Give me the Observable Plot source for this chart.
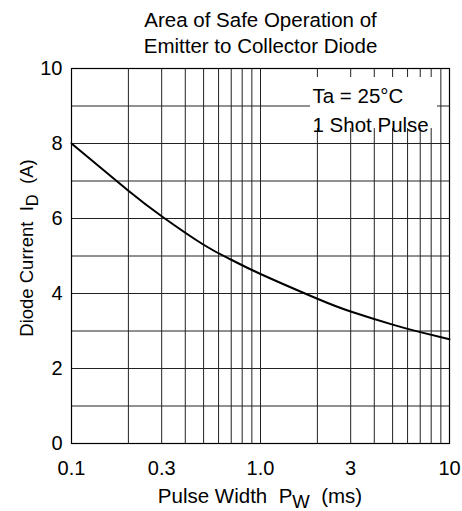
<!DOCTYPE html>
<html>
<head>
<meta charset="utf-8">
<script src="https://cdn.jsdelivr.net/npm/d3@7"></script>
<script src="https://cdn.jsdelivr.net/npm/@observablehq/plot@0.6"></script>
<style>
  html, body { margin: 0; padding: 0; background: #fff; overflow: hidden; }
  #chart { width: 462px; height: 511px; }
</style>
</head>
<body>
<div id="chart"></div>
<script>
// Data
const pulseWidth = [0.1, 0.2, 0.3, 0.5, 0.7, 1.0, 2, 3, 5, 7, 10];
const diodeCurrent = [8.0, 6.74, 6.06, 5.3, 4.9, 4.52, 3.86, 3.52, 3.17, 2.97, 2.78];

const xTicks = [0.1, 0.3, 1, 3, 10];
const xTickLabels = ["0.1", "0.3", "1.0", "3", "10"];
const yTicks = [0, 2, 4, 6, 8, 10];
const xGrid = [0.1, 0.2, 0.3, 0.4, 0.5, 0.6, 0.7, 0.8, 0.9, 1, 2, 3, 4, 5, 6, 7, 8, 9, 10];
const yGrid = [0, 1, 2, 3, 4, 5, 6, 7, 8, 9, 10];

const titleLines = ["Area of Safe Operation of", "Emitter to Collector Diode"];
const noteLines = ["Ta = 25°C", "1 Shot Pulse"];
const xLabelParts = ["Pulse Width  P", "W", "  (ms)"];
const yLabelParts = ["Diode Current  I", "D", "  (A)"];

const data = pulseWidth.map((x, i) => ({x, y: diodeCurrent[i]}));
const FONT = "'Liberation Sans', Arial, Helvetica, sans-serif";

const plot = Plot.plot({
  width: 462,
  height: 511,
  marginLeft: 71,
  marginRight: 13,
  marginTop: 68,
  marginBottom: 68,
  style: {fontFamily: FONT, fontSize: "20px", color: "#000", background: "#fff"},
  x: {
    type: "log",
    domain: [0.1, 10],
    ticks: xTicks,
    tickFormat: d => xTickLabels[xTicks.findIndex(t => Math.abs(t - d) < 1e-9)],
    tickSize: 0,
    tickPadding: 17,
    label: null
  },
  y: {
    domain: [0, 10],
    ticks: yTicks,
    tickSize: 0,
    tickPadding: 9,
    label: null
  },
  marks: [
    Plot.ruleX(xGrid, {stroke: "#222", strokeWidth: 1}),
    Plot.ruleY(yGrid, {stroke: "#222", strokeWidth: 1}),
    Plot.rect([noteLines], {fill: "white", insetLeft: 239, insetRight: 12, insetTop: 9, insetBottom: 315}),
    Plot.frame({stroke: "#000", strokeWidth: 1.2}),
    Plot.line(data, {x: "x", y: "y", curve: "natural", stroke: "#000", strokeWidth: 2}),
    Plot.text([noteLines.join("\n")], {
      text: d => d, frameAnchor: "top-left", dx: 241, dy: 14,
      lineAnchor: "top", textAnchor: "start", lineHeight: 1.4, fontSize: 20.5, fill: "#000"
    }),
    Plot.text([titleLines.join("\n")], {
      text: d => d, frameAnchor: "top", dy: -59,
      lineAnchor: "top", textAnchor: "middle", lineHeight: 1.23, fontSize: 20.5, fill: "#000"
    })
  ]
});

document.getElementById("chart").appendChild(plot);

const svg = d3.select(plot);

// axis titles with subscripts
function addLabel(parts, transform, size) {
  const t = svg.append("text")
    .attr("transform", transform)
    .attr("text-anchor", "middle")
    .attr("font-family", FONT)
    .attr("font-size", size)
    .attr("fill", "#000")
    .style("white-space", "pre");
  t.append("tspan").text(parts[0]);
  t.append("tspan").attr("dy", 5).attr("font-size", size - 2).text(parts[1]);
  t.append("tspan").attr("dy", -5).text(parts[2]);
}
addLabel(xLabelParts, "translate(260,503)", 20.5);
addLabel(yLabelParts, "translate(33,248) rotate(-90)", 18.5);
</script>
</body>
</html>
